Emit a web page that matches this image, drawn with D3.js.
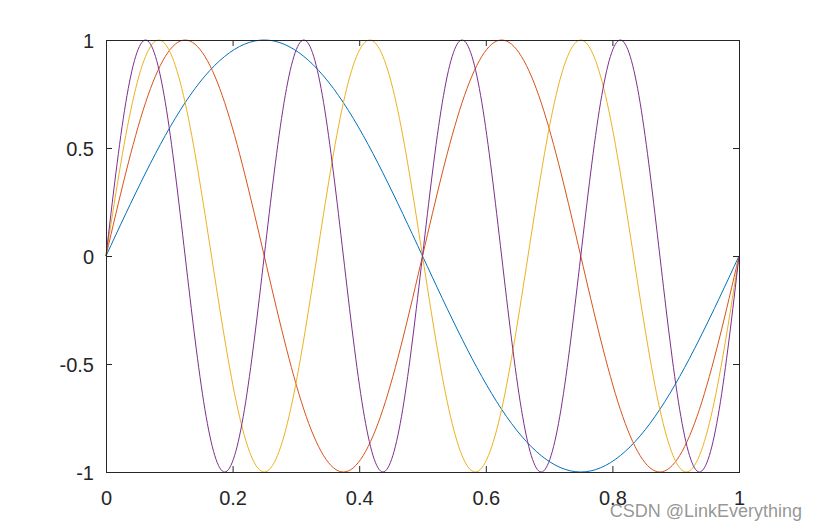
<!DOCTYPE html>
<html>
<head>
<meta charset="utf-8">
<script src="https://cdn.jsdelivr.net/npm/d3@7"></script>
<style>
  body { margin: 0; background: #fff; }
  svg { display: block; }
</style>
</head>
<body>
<div id="chart"></div>
<script>
var s1 = [0, 0.71, 1, 0.71, 0, -0.71, -1, -0.71, 0];
var s2 = [0, 0.71, 1, 0.71, 0, -0.71, -1, -0.71,
          0, 0.71, 1, 0.71, 0, -0.71, -1, -0.71, 0];
var s3 = [0, 0.71, 1, 0.71, 0, -0.71, -1, -0.71,
          0, 0.71, 1, 0.71, 0, -0.71, -1, -0.71,
          0, 0.71, 1, 0.71, 0, -0.71, -1, -0.71, 0];
var s4 = [0, 0.71, 1, 0.71, 0, -0.71, -1, -0.71,
          0, 0.71, 1, 0.71, 0, -0.71, -1, -0.71,
          0, 0.71, 1, 0.71, 0, -0.71, -1, -0.71,
          0, 0.71, 1, 0.71, 0, -0.71, -1, -0.71, 0];
var seriesValues = [s1, s2, s3, s4];
var colors = ["#0072BD", "#D95319", "#EDB120", "#7E2F8E"];
var xTicks = [0, 0.2, 0.4, 0.6, 0.8, 1];
var yTicks = [-1, -0.5, 0, 0.5, 1];

var W = 817, H = 530;
var margin = {top: 40, right: 78, bottom: 58, left: 106},
    width = W - margin.left - margin.right,
    height = H - margin.top - margin.bottom;

var svg = d3.select("#chart").append("svg")
    .attr("width", W)
    .attr("height", H);
var g = svg.append("g")
    .attr("transform", "translate(" + margin.left + "," + margin.top + ")");

var x = d3.scaleLinear().domain([0, 1]).range([0, width]);
var y = d3.scaleLinear().domain([-1, 1]).range([height, 0]);

var line = d3.line()
    .x(function(d) { return x(d[0]); })
    .y(function(d) { return y(d[1]); })
    .curve(d3.curveNatural);

g.append("defs").append("clipPath").attr("id", "clip")
  .append("rect").attr("x", -1).attr("y", -1).attr("width", width + 2).attr("height", height + 2);

seriesValues.forEach(function(vals, i) {
  var n = vals.length - 1;
  var pts = vals.map(function(v, k) { return [k / n, v]; });
  g.append("path")
    .datum(pts)
    .attr("clip-path", "url(#clip)")
    .attr("fill", "none")
    .attr("stroke", colors[i])
    .attr("stroke-width", 1)
    .attr("d", line);
});

var fmt = function(d) { return String(d); };
var axisColor = "#262626";

function styleAxis(sel, showText) {
  sel.select(".domain").remove();
  sel.selectAll("line").attr("stroke", axisColor);
  sel.selectAll("text")
    .attr("fill", showText ? axisColor : "none")
    .style("font-family", "Liberation Sans, Arial, sans-serif")
    .style("font-size", "20px");
}

g.append("g")
  .attr("transform", "translate(0," + height + ")")
  .call(d3.axisBottom(x).tickValues(xTicks).tickFormat(fmt).tickSizeInner(-6).tickSizeOuter(0).tickPadding(19))
  .call(function(s) { styleAxis(s, true); });
g.append("g")
  .call(d3.axisTop(x).tickValues(xTicks).tickFormat("").tickSizeInner(-6).tickSizeOuter(0))
  .call(function(s) { styleAxis(s, false); });
g.append("g")
  .call(d3.axisLeft(y).tickValues(yTicks).tickFormat(fmt).tickSizeInner(-6).tickSizeOuter(0).tickPadding(12))
  .call(function(s) { styleAxis(s, true); s.selectAll("text").attr("dy", "0.38em"); });
g.append("g")
  .attr("transform", "translate(" + width + ",0)")
  .call(d3.axisRight(y).tickValues(yTicks).tickFormat("").tickSizeInner(-6).tickSizeOuter(0))
  .call(function(s) { styleAxis(s, false); });

// box
g.append("rect")
  .attr("x", 0).attr("y", 0)
  .attr("width", width).attr("height", height)
  .attr("fill", "none")
  .attr("stroke", axisColor)
  .attr("stroke-width", 1)
  .attr("shape-rendering", "crispEdges");

// watermark
svg.append("text")
  .attr("x", 802).attr("y", 517)
  .attr("text-anchor", "end")
  .attr("fill", "#8a8a8a")
  .attr("fill-opacity", 0.9)
  .style("font-family", "Liberation Sans, Arial, sans-serif")
  .style("font-size", "18px")
  .text("CSDN @LinkEverything");
</script>
</body>
</html>
